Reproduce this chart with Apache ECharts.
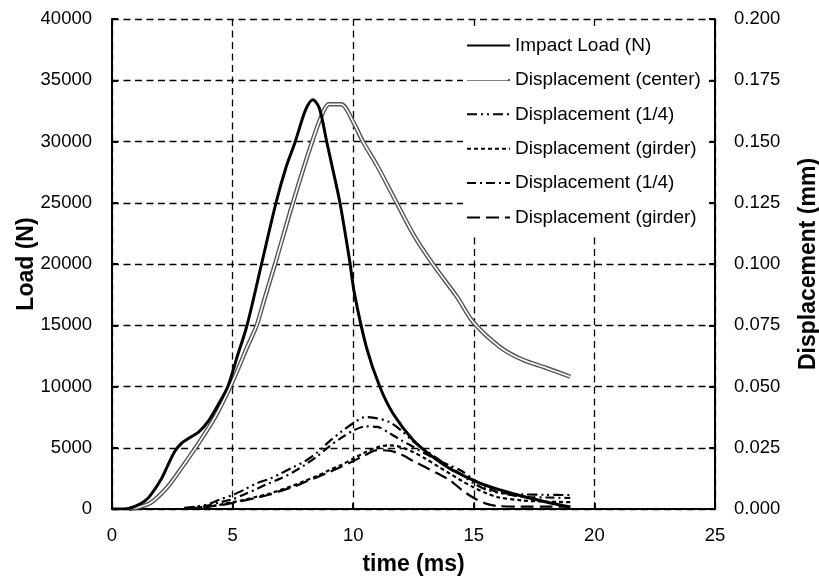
<!DOCTYPE html>
<html>
<head>
<meta charset="utf-8">
<script src="https://cdn.jsdelivr.net/npm/echarts@6/dist/echarts.min.js"></script>
<style>
html,body{margin:0;padding:0;background:#fff;}
#chart{width:819px;height:581px;}
</style>
</head>
<body>
<div id="chart"></div>
<script>
// ---- data ----
const xTicks = [0, 5, 10, 15, 20, 25];
const loadTicks = ['0', '5000', '10000', '15000', '20000', '25000', '30000', '35000', '40000'];
const dispTicks = ['0.000','0.025','0.050','0.075','0.100','0.125','0.150','0.175','0.200'];

const seriesNames = ['Impact Load (N)', 'Displacement (center)', 'Displacement (1/4)', 'Displacement (girder)', 'Displacement (1/4) ', 'Displacement (girder) '];

const loadTime = [0, 0.5, 1.0, 1.5, 2.0, 2.3, 2.6, 2.9, 3.2, 3.6, 4.0, 4.4, 4.8, 5.2, 5.6, 6.2, 6.8, 7.2, 7.6, 7.9, 8.1, 8.33, 8.6, 8.9, 9.1, 9.45, 9.85, 10.05, 10.55, 11.1, 11.65, 12.5, 13.3, 14.0, 14.7, 15.4, 16.1, 16.9, 18.0, 19.0];
const loadValue = [0, 0, 250, 900, 2300, 3500, 4700, 5400, 5800, 6300, 7200, 8500, 10000, 12500, 15000, 20000, 25000, 27800, 30000, 31900, 32900, 33400, 32700, 30000, 28200, 25000, 20300, 17600, 13200, 10000, 7800, 5600, 4250, 3300, 2600, 2000, 1550, 1100, 570, 160];

const centerTime = [0.7, 1.0, 1.6, 2.3, 2.9, 3.6, 4.3, 5.0, 5.6, 6.0, 6.3, 6.76, 7.5, 8.3, 8.75, 9.0, 9.5, 10.0, 10.4, 11.0, 11.8, 12.5, 13.3, 14.3, 15.0, 16.1, 17.0, 18.0, 19.0];
const centerValue = [0, 0.0005, 0.0025, 0.009, 0.017, 0.027, 0.038, 0.052, 0.066, 0.075, 0.085, 0.1, 0.125, 0.15, 0.162, 0.1652, 0.1652, 0.158, 0.15, 0.14, 0.125, 0.112, 0.1, 0.0866, 0.076, 0.066, 0.061, 0.0576, 0.054];

const smallTime = [3.0, 3.5, 4.0, 4.5, 5.0, 5.5, 6.0, 6.5, 7.0, 7.5, 8.0, 8.5, 9.0, 9.5, 10.0, 10.5, 11.0, 11.5, 12.0, 12.5, 13.0, 13.5, 14.0, 14.5, 15.0, 15.5, 16.0, 17.0, 18.0, 19.0];
const quarterA = [0.0005, 0.001, 0.002, 0.004, 0.0057, 0.008, 0.0105, 0.0122, 0.0145, 0.017, 0.0195, 0.023, 0.0275, 0.0315, 0.035, 0.0375, 0.037, 0.0355, 0.032, 0.0275, 0.024, 0.0205, 0.0172, 0.014, 0.0105, 0.008, 0.0067, 0.006, 0.0058, 0.0057];
const girderS = [0.0003, 0.0006, 0.001, 0.0018, 0.0028, 0.0038, 0.005, 0.0062, 0.0078, 0.0095, 0.0115, 0.0135, 0.0158, 0.018, 0.0205, 0.0232, 0.0252, 0.026, 0.0252, 0.0232, 0.0205, 0.0175, 0.0145, 0.0115, 0.0088, 0.0065, 0.0048, 0.0035, 0.003, 0.0028];
const quarterB = [0.0003, 0.0008, 0.0015, 0.0028, 0.004, 0.006, 0.0082, 0.0105, 0.0125, 0.015, 0.018, 0.0215, 0.0255, 0.029, 0.032, 0.0337, 0.0335, 0.031, 0.028, 0.0253, 0.0225, 0.02, 0.0178, 0.0155, 0.012, 0.009, 0.0068, 0.005, 0.0047, 0.0045];
const girderL = [0.0002, 0.0005, 0.0009, 0.0016, 0.0025, 0.0035, 0.0046, 0.0058, 0.0074, 0.009, 0.011, 0.013, 0.015, 0.0172, 0.0195, 0.022, 0.024, 0.0238, 0.0222, 0.0195, 0.017, 0.0145, 0.0118, 0.0078, 0.0045, 0.0022, 0.0012, 0.001, 0.001, 0.001];

// ---- build ----
const FONT = "'Liberation Sans', Arial, Helvetica, sans-serif";
function pairs(xs, ys) { return xs.map((x, i) => [x, ys[i]]); }

const gridLine = { show: true, lineStyle: { color: '#000', width: 1.3, type: [7, 4.5] } };
const axisLineStyle = { show: true, onZero: false, lineStyle: { color: '#000', width: 2 } };
const tickStyle = { show: true, inside: true, length: 6, lineStyle: { color: '#000', width: 2 } };

function lineSeries(name, data, yIndex, color, width, type, z) {
  return {
    name: name, type: 'line', yAxisIndex: yIndex, data: data,
    symbol: 'none', smooth: 0.3, z: z,
    lineStyle: { color: color, width: width, type: type },
    itemStyle: { color: color },
    emphasis: { disabled: true }
  };
}

const loadStep = Number(loadTicks[1]);
const chart = echarts.init(document.getElementById('chart'), null, { renderer: 'canvas' });
const option = {
  animation: false,
  backgroundColor: '#fff',
  textStyle: { fontFamily: FONT },
  grid: { left: 112, right: 104, top: 19, bottom: 72, containLabel: false, outerBoundsMode: 'none' },
  xAxis: {
    type: 'value', min: xTicks[0], max: xTicks[xTicks.length - 1], interval: xTicks[1] - xTicks[0],
    axisLine: axisLineStyle,
    axisTick: tickStyle,
    splitLine: gridLine,
    axisLabel: { color: '#000', fontSize: 18.5, fontFamily: FONT, margin: 17,
      formatter: function (v) { return String(xTicks[Math.round(v / 5)]); } },
    name: 'time (ms)', nameLocation: 'middle', nameGap: 44, nameMoveOverlap: false,
    nameTextStyle: { color: '#000', fontSize: 23, fontWeight: 'bold', fontFamily: FONT }
  },
  yAxis: [
    {
      type: 'value', min: 0, max: Number(loadTicks[loadTicks.length - 1]), interval: loadStep,
      axisLine: axisLineStyle, axisTick: tickStyle, splitLine: gridLine,
      axisLabel: { color: '#000', fontSize: 18.5, fontFamily: FONT, margin: 20,
        formatter: function (v) { return loadTicks[Math.round(v / loadStep)]; } },
      name: 'Load (N)', nameLocation: 'middle', nameGap: 74, nameMoveOverlap: false,
      nameTextStyle: { color: '#000', fontSize: 23, fontWeight: 'bold', fontFamily: FONT }
    },
    {
      type: 'value', position: 'right', min: 0, max: 0.2, interval: 0.025,
      axisLine: axisLineStyle, axisTick: tickStyle, splitLine: { show: false },
      axisLabel: {
        color: '#000', fontSize: 18.5, fontFamily: FONT, margin: 19,
        formatter: function (v) { return dispTicks[Math.round(v / 0.025)]; }
      },
      name: 'Displacement (mm)', nameLocation: 'middle', nameGap: 82, nameMoveOverlap: false,
      nameTextStyle: { color: '#000', fontSize: 23, fontWeight: 'bold', fontFamily: FONT }
    }
  ],
  legend: {
    orient: 'vertical', left: 463, top: 28,
    padding: [8, 6, 7, 3],
    itemWidth: 43, itemHeight: 14, itemGap: 15.4,
    backgroundColor: '#fff',
    selectedMode: false,
    itemStyle: { opacity: 0 },
    textStyle: { color: '#000', fontSize: 19, fontFamily: FONT },
    data: seriesNames
  },
  graphic: [
    { type: 'line', z: 100, shape: { x1: 467, y1: 79.5, x2: 508, y2: 79.5 }, style: { stroke: '#fff', lineWidth: 1.6 } }
  ],
  series: [
    lineSeries(seriesNames[2], pairs(smallTime, quarterA), 1, '#000', 2.2, [10, 4, 2, 4, 2, 4], 3),
    lineSeries(seriesNames[3], pairs(smallTime, girderS), 1, '#000', 2.2, [4, 3], 3),
    lineSeries(seriesNames[4], pairs(smallTime, quarterB), 1, '#000', 2.2, [9, 4, 2, 4], 3),
    lineSeries(seriesNames[5], pairs(smallTime, girderL), 1, '#000', 2.2, [13, 6], 3),
    lineSeries(seriesNames[1], pairs(centerTime, centerValue), 1, '#555', 4.4, 'solid', 4),
    lineSeries('center-inner', pairs(centerTime, centerValue), 1, '#fff', 1.6, 'solid', 5),
    lineSeries(seriesNames[0], pairs(loadTime, loadValue), 0, '#000', 3, 'solid', 6)
  ]
};
chart.setOption(option);
</script>
</body>
</html>
